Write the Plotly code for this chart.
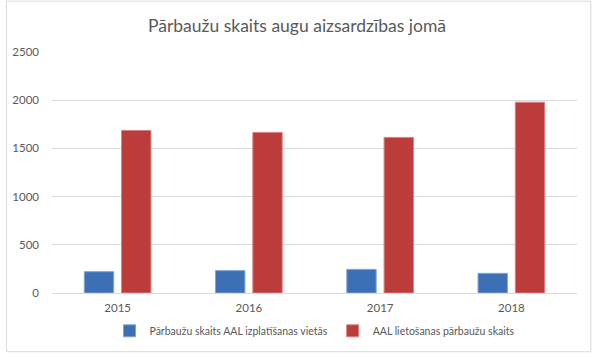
import plotly.graph_objects as go

years = ["2015", "2016", "2017", "2018"]
series_names = ["Pārbaužu skaits AAL izplatīšanas vietās", "AAL lietošanas pārbaužu skaits"]
distribution_checks = [221, 232, 245, 204]
usage_checks = [1686, 1666, 1614, 1979]
title_text = "Pārbaužu skaits augu aizsardzības jomā"
y_ticks = [0, 500, 1000, 1500, 2000, 2500]

FONT = "Lato"
GREY = "#595959"

fig = go.Figure()
fig.add_trace(go.Bar(x=years, y=distribution_checks, name=series_names[0],
                     marker=dict(color="#3C6FB4", line=dict(color="#7FA3D6", width=1))))
fig.add_trace(go.Bar(x=years, y=usage_checks, name=series_names[1],
                     marker=dict(color="#BC3C3C", line=dict(color="#D88080", width=1))))

W, H = 594, 357
L, R, T, B = 47, 17, 52, 63
pw, ph = W - L - R, H - T - B

fig.update_layout(
    width=W, height=H,
    margin=dict(l=L, r=R, t=T, b=B, pad=0),
    paper_bgcolor="white", plot_bgcolor="white",
    barmode="group", bargap=0.432, bargroupgap=0.2125,
    font=dict(family=FONT, color=GREY, size=11),
    title=dict(text=title_text, x=0.5, xanchor="center", y=1 - 26 / H, yanchor="middle",
               font=dict(family=FONT, size=17.5, color=GREY)),
    showlegend=True,
    legend=dict(orientation="h", x=0.5, xanchor="center", y=(ph - (332 - T)) / ph,
                yanchor="middle", font=dict(family=FONT, size=10.5, color=GREY),
                itemwidth=30, traceorder="normal"),
    xaxis=dict(showgrid=False, showline=True, linecolor="#D9D9D9", linewidth=1,
               ticks="", tickfont=dict(family=FONT, size=11.5, color=GREY), fixedrange=True,
               ticklabelstandoff=4),
    yaxis=dict(range=[0, 2500], tickvals=y_ticks, showgrid=True, gridcolor="#D9D9D9",
               gridwidth=1, zeroline=False, showline=False, ticks="", fixedrange=True,
               tickfont=dict(family=FONT, size=11.5, color=GREY), ticklabelstandoff=12),
    shapes=[dict(type="rect", xref="paper", yref="paper",
                 x0=(1 - L) / pw, x1=(591 - L) / pw,
                 y0=(T + ph - 353) / ph, y1=(T + ph - 1) / ph,
                 line=dict(color="#D9D9D9", width=1), fillcolor="rgba(0,0,0,0)", layer="below")],
)

fig.write_html("out.html", config={"displayModeBar": False})

with open("out.html", encoding="utf-8") as f:
    html = f.read()
html = html.replace("<head>", "<head><style>html,body{margin:0;padding:0;overflow:hidden;}</style>", 1)
with open("out.html", "w", encoding="utf-8") as f:
    f.write(html)
